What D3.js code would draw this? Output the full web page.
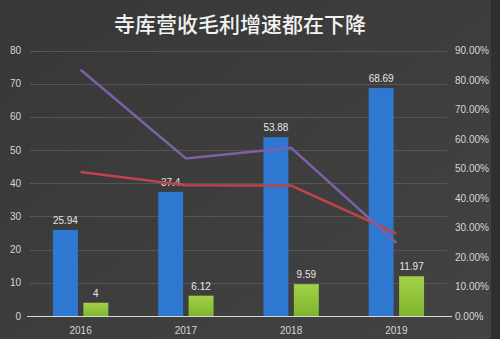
<!DOCTYPE html>
<html>
<head>
<meta charset="utf-8">
<script src="https://cdn.jsdelivr.net/npm/d3@7"></script>
<style>
  body { margin: 0; background: #3d3d3d; }
  svg { display: block; }
</style>
</head>
<body>
<script>
const WIDTH = 500
const HEIGHT = 339

// data
const years = ['2016', '2017', '2018', '2019']
const revenue = [25.94, 37.4, 53.88, 68.69]
const grossProfit = [4, 6.12, 9.59, 11.97]
const revenueGrowth = [0.835, 0.534, 0.57, 0.248]
const profitGrowth = [0.488, 0.443, 0.442, 0.28]
const leftTicks = [0, 10, 20, 30, 40, 50, 60, 70, 80]
const rightTicks = [0, 0.1, 0.2, 0.3, 0.4, 0.5, 0.6, 0.7, 0.8, 0.9]

const svg = d3.select('body').append('svg').attr('width', WIDTH).attr('height', HEIGHT)

const defs = svg.append('defs')
const bg = defs.append('linearGradient').attr('id', 'bg').attr('x1', 0).attr('y1', 0).attr('x2', 1).attr('y2', 1)
bg.append('stop').attr('offset', '0%').attr('stop-color', '#373737')
bg.append('stop').attr('offset', '100%').attr('stop-color', '#434343')
const green = defs.append('linearGradient').attr('id', 'green').attr('x1', 0).attr('y1', 0).attr('x2', 0).attr('y2', 1)
green.append('stop').attr('offset', '0%').attr('stop-color', '#a3d14a')
green.append('stop').attr('offset', '100%').attr('stop-color', '#7fb52c')

svg.append('rect').attr('width', WIDTH).attr('height', HEIGHT).attr('fill', 'url(#bg)')
svg.append('rect').attr('x', 491).attr('width', 9).attr('height', HEIGHT).attr('fill', '#2f2f2f')

const PLOT_L = 28, PLOT_R = 449, PLOT_T = 50.5, PLOT_B = 316

const x0 = d3.scaleBand().domain(years).range([PLOT_L, PLOT_R])
const x1 = d3.scaleBand().domain(['rev', 'gp']).range([0, x0.bandwidth()])
  .paddingInner(0.18).paddingOuter(0.82)
const yL = d3.scaleLinear().domain([0, 80]).range([PLOT_B, PLOT_T])
const yR = d3.scaleLinear().domain([0, 0.9]).range([PLOT_B, PLOT_T])

// gridlines
svg.append('g').selectAll('line').data(leftTicks.slice(1)).enter().append('line')
  .attr('x1', PLOT_L + 2).attr('x2', PLOT_R - 2)
  .attr('y1', d => Math.round(yL(d)) + 0.5).attr('y2', d => Math.round(yL(d)) + 0.5)
  .attr('stroke', '#555555').attr('stroke-width', 1)

const font = '"Liberation Sans", Arial, sans-serif'

// left axis
svg.append('g').selectAll('text').data(leftTicks).enter().append('text')
  .attr('x', 21).attr('y', d => yL(d) + 3.5)
  .attr('text-anchor', 'end').attr('font-family', font).attr('font-size', 10)
  .attr('fill', '#d6d6d6').text(d => d)

// right axis
svg.append('g').selectAll('text').data(rightTicks).enter().append('text')
  .attr('x', 455).attr('y', d => yR(d) + 3.5)
  .attr('font-family', font).attr('font-size', 10)
  .attr('fill', '#d6d6d6').text(d => d3.format('.2%')(d))

// bars
const groups = svg.append('g').selectAll('g').data(years).enter().append('g')
  .attr('transform', d => `translate(${x0(d)},0)`)

groups.append('rect')
  .attr('x', x1('rev')).attr('width', x1.bandwidth())
  .attr('y', (d, i) => yL(revenue[i])).attr('height', (d, i) => PLOT_B - yL(revenue[i]))
  .attr('fill', '#2e78d2')
groups.append('rect')
  .attr('x', x1('gp')).attr('width', x1.bandwidth())
  .attr('y', (d, i) => yL(grossProfit[i])).attr('height', (d, i) => PLOT_B - yL(grossProfit[i]))
  .attr('fill', 'url(#green)')

groups.append('text')
  .attr('x', x1('rev') + x1.bandwidth() / 2).attr('y', (d, i) => yL(revenue[i]) - 6)
  .attr('text-anchor', 'middle').attr('font-family', font).attr('font-size', 10)
  .attr('fill', '#e6e6e6').text((d, i) => revenue[i])
groups.append('text')
  .attr('x', x1('gp') + x1.bandwidth() / 2).attr('y', (d, i) => yL(grossProfit[i]) - 6)
  .attr('text-anchor', 'middle').attr('font-family', font).attr('font-size', 10)
  .attr('fill', '#e6e6e6').text((d, i) => grossProfit[i])

// zero line
svg.append('line').attr('x1', PLOT_L - 1).attr('x2', PLOT_R + 3)
  .attr('y1', PLOT_B + 0.5).attr('y2', PLOT_B + 0.5)
  .attr('stroke', '#d9d9d9').attr('stroke-width', 1)

// category labels
svg.append('g').selectAll('text').data(years).enter().append('text')
  .attr('x', d => x0(d) + x0.bandwidth() / 2).attr('y', 334)
  .attr('text-anchor', 'middle').attr('font-family', font).attr('font-size', 10)
  .attr('fill', '#d6d6d6').text(d => d)

// lines
const line = d3.line().x((d, i) => x0(years[i]) + x0.bandwidth() / 2).y(d => yR(d))
svg.append('path').datum(profitGrowth).attr('d', line)
  .attr('fill', 'none').attr('stroke', '#c0434a').attr('stroke-width', 2.5)
svg.append('path').datum(revenueGrowth).attr('d', line)
  .attr('fill', 'none').attr('stroke', '#7d61a6').attr('stroke-width', 2.5)

// title
svg.append('text').attr('x', 240).attr('y', 32)
  .attr('text-anchor', 'middle')
  .attr('font-family', '"Noto Sans CJK SC", sans-serif').attr('font-size', 21).attr('font-weight', 500)
  .attr('fill', '#f2f2f2').text('寺库营收毛利增速都在下降')
</script>
</body>
</html>
